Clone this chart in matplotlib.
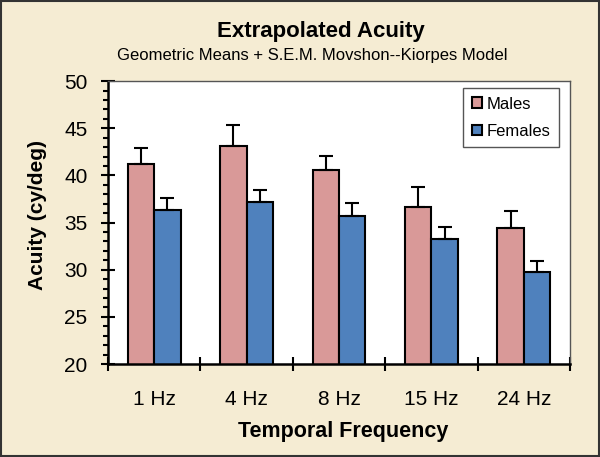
import numpy as np
import matplotlib.pyplot as plt
from matplotlib.patches import Rectangle
from matplotlib.ticker import MultipleLocator

plt.rcParams['font.family'] = ['Liberation Sans', 'DejaVu Sans']

categorias = ["1 Hz", "4 Hz", "8 Hz", "15 Hz", "24 Hz"]
machos = [41.2, 43.1, 40.6, 36.7, 34.4]
machos_sem = [1.7, 2.2, 1.5, 2.1, 1.85]
femeas = [36.3, 37.2, 35.7, 33.3, 29.8]
femeas_sem = [1.3, 1.2, 1.4, 1.2, 1.1]

cor_fundo = "#F5ECD3"
cor_machos = "#D99998"
cor_femeas = "#4F81BD"

fig = plt.figure(figsize=(6.0, 4.57), dpi=100, facecolor=cor_fundo)
ax = fig.add_axes([0.18, 0.2035, 0.77, 0.619])
ax.set_facecolor("white")

x = np.arange(len(categorias))
largura = 0.285
kw_err = dict(ecolor="black", elinewidth=1.5, capsize=5, capthick=1.5)
ax.bar(x - largura / 2, machos, largura, yerr=[np.zeros(5), machos_sem],
       color=cor_machos, edgecolor="black", linewidth=1.5, label="Males",
       error_kw=kw_err, zorder=2)
ax.bar(x + largura / 2, femeas, largura, yerr=[np.zeros(5), femeas_sem],
       color=cor_femeas, edgecolor="black", linewidth=1.5, label="Females",
       error_kw=kw_err, zorder=2)

# eixos
ax.set_xlim(-0.5, len(categorias) - 0.5)
ax.set_ylim(20, 50)
ax.yaxis.set_major_locator(MultipleLocator(5))
ax.yaxis.set_minor_locator(MultipleLocator(1))
ax.set_xticks(np.arange(-0.5, len(categorias), 1.0))
ax.set_xticklabels([])
ax.set_xticks(x, minor=True)
ax.set_xticklabels(categorias, minor=True, fontsize=15)
ax.tick_params(axis="x", which="major", direction="inout", length=9.5, width=1.5)
ax.tick_params(axis="x", which="minor", length=0, pad=19)
ax.tick_params(axis="y", which="major", direction="inout", length=9.5, width=1.5,
               labelsize=15, pad=10)
ax.tick_params(axis="y", which="minor", direction="out", length=3.6, width=1.5)

for lado in ["left", "bottom"]:
    ax.spines[lado].set_linewidth(1.8)
    ax.spines[lado].set_color("black")
for lado in ["top", "right"]:
    ax.spines[lado].set_linewidth(1.0)
    ax.spines[lado].set_color("#555555")

fig.text(0.572, 0.055, "Temporal Frequency", ha="center", va="center",
         fontsize=15.5, weight="bold")
fig.text(0.062, 0.53, "Acuity (cy/deg)", ha="center", va="center",
         rotation=90, fontsize=15, weight="bold")

fig.text(0.535, 0.93, "Extrapolated Acuity", ha="center", va="center",
         fontsize=16, weight="bold")
fig.text(0.52, 0.878, "Geometric Means + S.E.M. Movshon--Kiorpes Model",
         ha="center", va="center", fontsize=12)

leg = ax.legend(loc="upper right", bbox_to_anchor=(0.976, 0.975), fontsize=12,
                fancybox=False, framealpha=1, edgecolor="#555555",
                handlelength=0.6, handleheight=0.6, handletextpad=0.3,
                borderpad=0.5, labelspacing=0.75, borderaxespad=0)
leg.get_frame().set_linewidth(1.0)

# moldura da figura
fig.patches.append(Rectangle((0.002, 0.002), 0.996, 0.996, transform=fig.transFigure,
                             fill=False, edgecolor="#333333", linewidth=1.5))

fig.savefig("out.png", dpi=100, facecolor=cor_fundo)
